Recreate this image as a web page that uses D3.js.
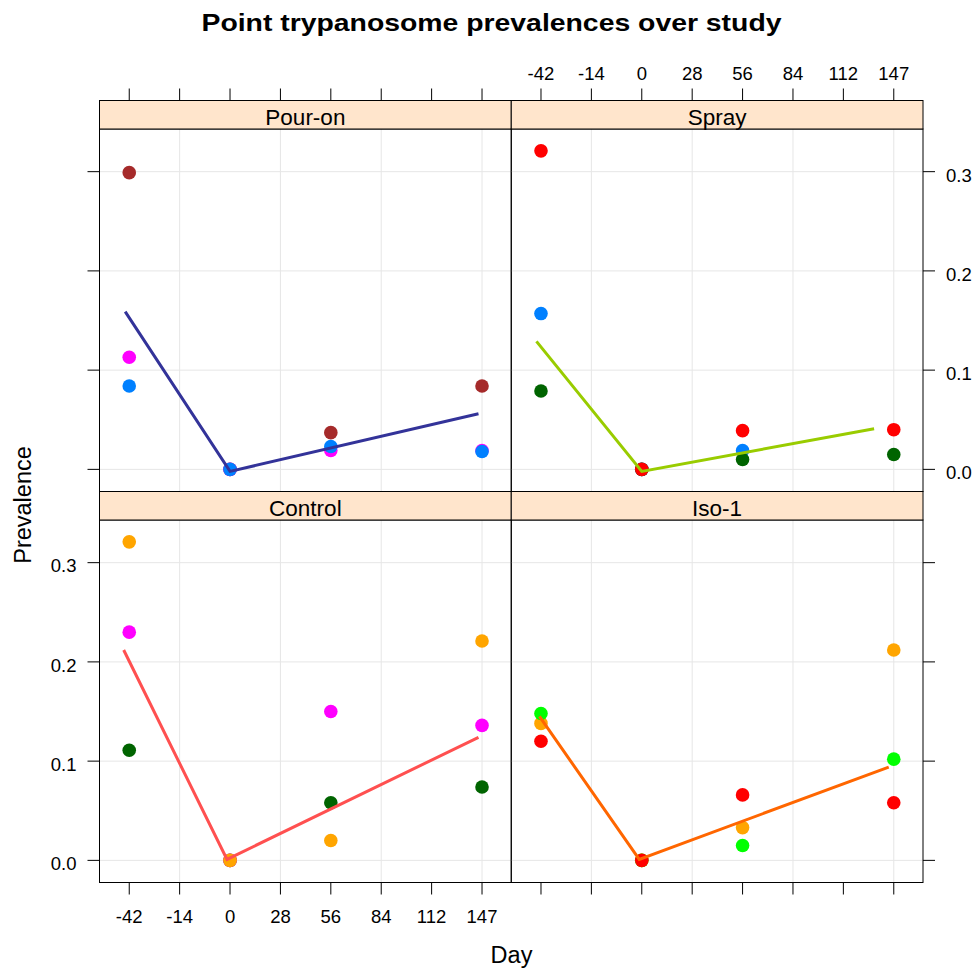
<!DOCTYPE html>
<html>
<head>
<meta charset="utf-8">
<script src="https://cdn.jsdelivr.net/npm/d3@7.9.0/dist/d3.min.js"></script>
<style>
  body { margin: 0; background: #fff; }
  svg { font-family: "Liberation Sans", Arial, Helvetica, sans-serif; }
</style>
</head>
<body>
<svg id="chart" width="977" height="971"></svg>
<script>
// x is an index 1..8, labelled by day
const dayLabels = ['-42', '-14', '0', '28', '56', '84', '112', '147'];
const sampleIdx = [1, 3, 5, 8];
const yTicks = [0.0, 0.1, 0.2, 0.3];

// point prevalences per herd (order = draw order), at day -42, 0, 56, 147
const pourOnHerds = ['brown', 'magenta', 'blue'];
const pourOnVals = [
  [0.299, 0, 0.037, 0.084],
  [0.113, 0, 0.019, 0.019],
  [0.084, 0, 0.023, 0.018]
];
const sprayHerds = ['blue', 'darkgreen', 'red'];
const sprayVals = [
  [0.157, 0, 0.019, null],
  [0.079, 0, 0.010, 0.015],
  [0.321, 0, 0.039, 0.040]
];
const controlHerds = ['darkgreen', 'magenta', 'orange'];
const controlVals = [
  [0.111, 0, 0.058, 0.074],
  [0.230, 0, 0.150, 0.136],
  [0.321, 0, 0.020, 0.221]
];
const isoHerds = ['orange', 'green', 'red'];
const isoVals = [
  [0.138, 0, 0.033, 0.212],
  [0.148, 0, 0.015, 0.102],
  [0.120, 0, 0.066, 0.058]
];

// fitted lines (x index, prevalence)
const pourOnLineX = [0.92, 3.0, 7.93];
const pourOnLineY = [0.159, -0.002, 0.056];
const sprayLineX = [0.91, 3.0, 7.61];
const sprayLineY = [0.129, -0.002, 0.041];
const controlLineX = [0.89, 2.94, 7.93];
const controlLineY = [0.212, 0.001, 0.124];
const isoLineX = [0.97, 2.95, 7.90];
const isoLineY = [0.145, 0.001, 0.094];

const herdColors = {
  brown: '#A52A2A', magenta: '#FF00FF', blue: '#0080FF',
  darkgreen: '#006400', red: '#FF0000', orange: '#FFA500', green: '#00FF00'
};

const panels = [
  { name: 'Pour-on', row: 0, col: 0, herds: pourOnHerds, vals: pourOnVals, lx: pourOnLineX, ly: pourOnLineY, lineColor: '#333399' },
  { name: 'Spray', row: 0, col: 1, herds: sprayHerds, vals: sprayVals, lx: sprayLineX, ly: sprayLineY, lineColor: '#99CC00' },
  { name: 'Control', row: 1, col: 0, herds: controlHerds, vals: controlVals, lx: controlLineX, ly: controlLineY, lineColor: '#FF5050' },
  { name: 'Iso-1', row: 1, col: 1, herds: isoHerds, vals: isoVals, lx: isoLineX, ly: isoLineY, lineColor: '#FF6600' }
];

const svg = d3.select('#chart');

// layout
const leftX = 99.5, panelW = 411.75;
const topY = 100.5, stripH = 28.5, panelH = 362.5;
const tickLen = 12;

let x = d3.scaleLinear().domain([0.41, 8.58]).range([0, panelW]);
let y = d3.scaleLinear().domain([-0.0223, 0.343]).range([panelH, 0]);

// title
svg.append('text')
  .attr('x', 491.5).attr('y', 31)
  .attr('text-anchor', 'middle')
  .attr('font-weight', 'bold')
  .attr('font-size', 23)
  .attr('textLength', 580)
  .attr('lengthAdjust', 'spacingAndGlyphs')
  .text('Point trypanosome prevalences over study');

// axis titles
svg.append('text')
  .attr('transform', 'translate(31,505) rotate(-90)')
  .attr('text-anchor', 'middle')
  .attr('font-size', 23.5)
  .text('Prevalence');

svg.append('text')
  .attr('x', 511.5).attr('y', 963)
  .attr('text-anchor', 'middle')
  .attr('font-size', 23.5)
  .text('Day');

panels.forEach((p) => {
  let px = leftX + p.col * panelW;
  let sy = topY + p.row * (stripH + panelH);
  let py = sy + stripH;

  let g = svg.append('g').attr('transform', `translate(${px},${py})`);

  // grid
  yTicks.forEach((t) => {
    g.append('line')
      .attr('x1', 0).attr('x2', panelW)
      .attr('y1', y(t)).attr('y2', y(t))
      .attr('stroke', '#E6E6E6').attr('stroke-width', 1);
  });
  [2, 4, 6, 8].forEach((t) => {
    g.append('line')
      .attr('x1', x(t)).attr('x2', x(t))
      .attr('y1', 0).attr('y2', panelH)
      .attr('stroke', '#E6E6E6').attr('stroke-width', 1);
  });

  // points
  p.herds.forEach((h, i) => {
    p.vals[i].forEach((v, j) => {
      if (v === null) return;
      g.append('circle')
        .attr('cx', x(sampleIdx[j]))
        .attr('cy', y(v))
        .attr('r', 6.8)
        .attr('fill', herdColors[h]);
    });
  });

  // fitted line
  let line = d3.line().x((d) => x(d[0])).y((d) => y(d[1]));
  g.append('path')
    .attr('d', line(d3.zip(p.lx, p.ly)))
    .attr('fill', 'none')
    .attr('stroke', p.lineColor)
    .attr('stroke-width', 3);

  // panel border
  g.append('rect')
    .attr('width', panelW).attr('height', panelH)
    .attr('fill', 'none').attr('stroke', '#000').attr('stroke-width', 1);

  // strip
  svg.append('rect')
    .attr('x', px).attr('y', sy)
    .attr('width', panelW).attr('height', stripH)
    .attr('fill', '#FFE5CC').attr('stroke', '#000').attr('stroke-width', 1);
  svg.append('text')
    .attr('x', px + panelW / 2).attr('y', sy + 24.5)
    .attr('text-anchor', 'middle')
    .attr('font-size', 22.5)
    .text(p.name);

  // top axis ticks (row 0), labels only on right column
  if (p.row === 0) {
    dayLabels.forEach((d, i) => {
      svg.append('line')
        .attr('x1', px + x(i + 1)).attr('x2', px + x(i + 1))
        .attr('y1', sy).attr('y2', sy - tickLen)
        .attr('stroke', '#000');
      if (p.col === 1) {
        svg.append('text')
          .attr('x', px + x(i + 1)).attr('y', sy - 21)
          .attr('text-anchor', 'middle')
          .attr('font-size', 18.5)
          .text(d);
      }
    });
  }
  // bottom axis ticks (row 1), labels only on left column
  if (p.row === 1) {
    dayLabels.forEach((d, i) => {
      svg.append('line')
        .attr('x1', px + x(i + 1)).attr('x2', px + x(i + 1))
        .attr('y1', py + panelH).attr('y2', py + panelH + tickLen)
        .attr('stroke', '#000');
      if (p.col === 0) {
        svg.append('text')
          .attr('x', px + x(i + 1)).attr('y', py + panelH + 40.5)
          .attr('text-anchor', 'middle')
          .attr('font-size', 18.5)
          .text(d);
      }
    });
  }
  // left axis (col 0), labels only on bottom row
  if (p.col === 0) {
    yTicks.forEach((t) => {
      svg.append('line')
        .attr('x1', px).attr('x2', px - tickLen)
        .attr('y1', py + y(t)).attr('y2', py + y(t))
        .attr('stroke', '#000');
      if (p.row === 1) {
        svg.append('text')
          .attr('x', px - 23).attr('y', py + y(t) + 9.6)
          .attr('text-anchor', 'end')
          .attr('font-size', 18.5)
          .text(d3.format('.1f')(t));
      }
    });
  }
  // right axis (col 1), labels only on top row
  if (p.col === 1) {
    yTicks.forEach((t) => {
      svg.append('line')
        .attr('x1', px + panelW).attr('x2', px + panelW + tickLen)
        .attr('y1', py + y(t)).attr('y2', py + y(t))
        .attr('stroke', '#000');
      if (p.row === 0) {
        svg.append('text')
          .attr('x', px + panelW + 23).attr('y', py + y(t) + 10)
          .attr('font-size', 18.5)
          .text(d3.format('.1f')(t));
      }
    });
  }
});
</script>
</body>
</html>
